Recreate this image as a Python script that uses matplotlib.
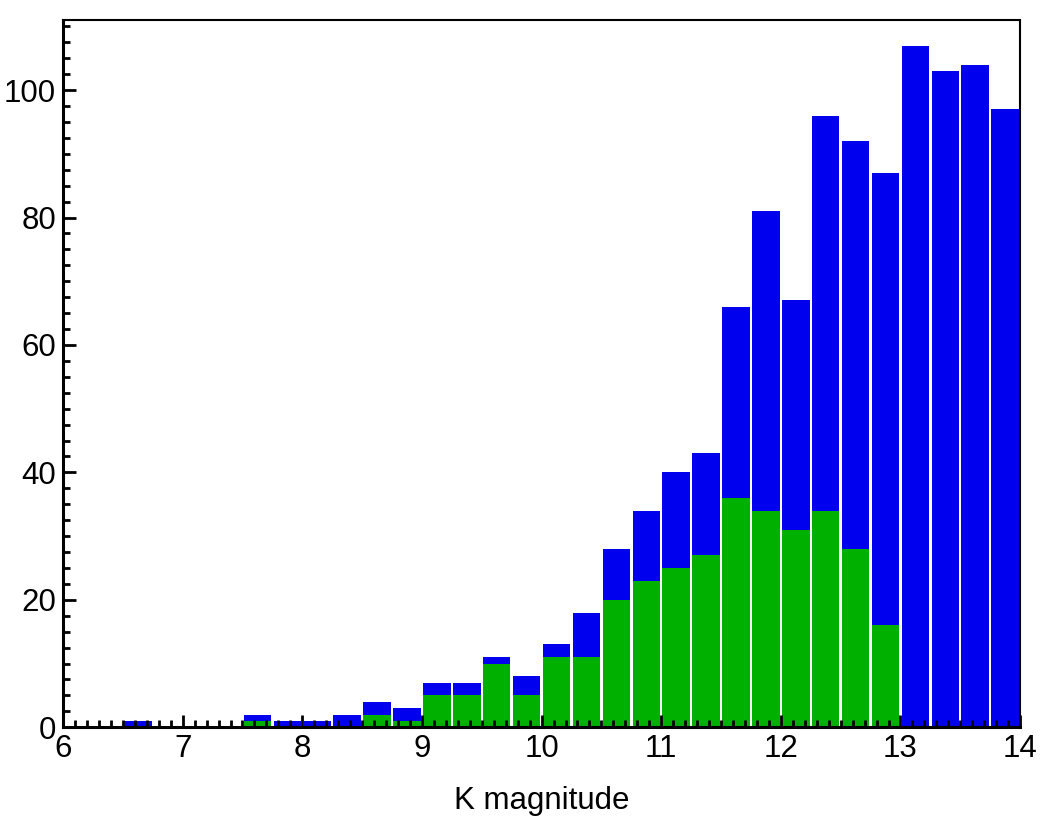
import matplotlib
matplotlib.use("Agg")
import matplotlib.pyplot as plt
from matplotlib.ticker import MultipleLocator
import numpy as np

plt.rcParams["font.family"] = ["Liberation Sans", "DejaVu Sans"]

# ── Data ──────────────────────────────────────────────────────────────────────
bin_edges_left = np.arange(6.5, 14.0, 0.25)
total_counts = [1, 0, 0, 0, 2, 1, 1, 2, 4, 3, 7, 7, 11, 8, 13, 18,
                28, 34, 40, 43, 66, 81, 67, 96, 92, 87, 107, 103, 104, 97]
subset_counts = [0, 0, 0, 0, 1, 0, 0, 0, 2, 1, 5, 5, 10, 5, 11, 11,
                 20, 23, 25, 27, 36, 34, 31, 34, 28, 16, 0, 0, 0, 0]
bin_width = 0.25

# ── Plot ──────────────────────────────────────────────────────────────────────
fig = plt.figure(figsize=(10.42, 8.34), dpi=100)
ax = fig.add_axes([0.0605, 0.128, 0.9185, 0.848])

gap = 0.02   # white gap between neighbouring bars
ax.bar(bin_edges_left + gap / 2, total_counts, width=bin_width - gap,
       align="edge", color="#0000ee", linewidth=0)
ax.bar(bin_edges_left + gap / 2, subset_counts, width=bin_width - gap,
       align="edge", color="#00b000", linewidth=0)

ax.set_xlim(6, 14)
ax.set_ylim(0, 111)
ax.xaxis.set_major_locator(MultipleLocator(1))
ax.xaxis.set_minor_locator(MultipleLocator(0.1))
ax.yaxis.set_major_locator(MultipleLocator(20))
ax.yaxis.set_minor_locator(MultipleLocator(2.5))
ax.tick_params(which="both", direction="in", top=False, right=False,
               labelsize=22.5, width=2)
ax.tick_params(which="major", length=9, pad=5)
ax.tick_params(which="minor", length=5)

for side in ["left", "bottom"]:
    ax.spines[side].set_linewidth(2.2)
for side in ["top", "right"]:
    ax.spines[side].set_linewidth(1.5)

ax.set_xlabel("K magnitude", fontsize=22.5, labelpad=16)

fig.savefig("out.png", dpi=100)
plt.close(fig)
